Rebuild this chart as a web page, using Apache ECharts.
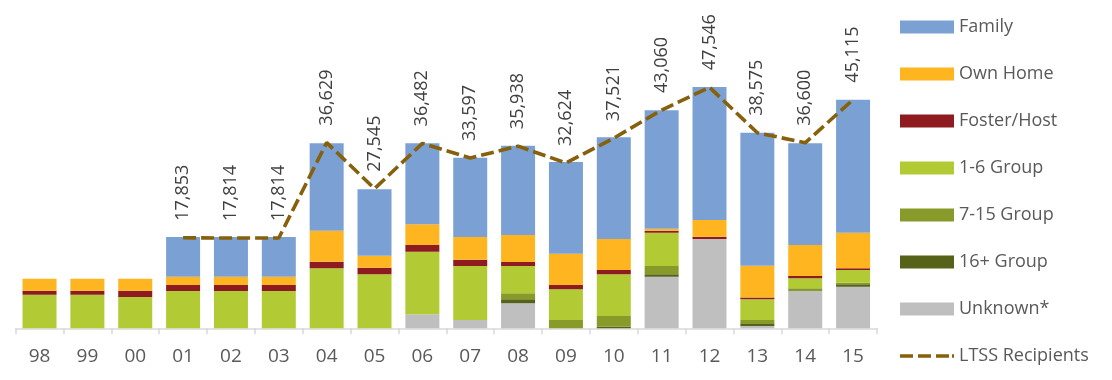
<!DOCTYPE html>
<html>
<head>
<meta charset="utf-8">
<script src="https://cdn.jsdelivr.net/npm/echarts@6/dist/echarts.min.js"></script>
<style>
html,body{margin:0;padding:0;background:#fff;}
#c{width:1112px;height:380px;}
</style>
</head>
<body>
<div id="c"></div>
<script>
const categories = ['98','99','00','01','02','03','04','05','06','07','08','09','10','11','12','13','14','15'];
const unknown   = [0,0,0,0,0,0,0,0,2760,1640,4930,0,0,10180,17620,450,7360,8210];
const group16   = [0,0,0,0,0,0,0,0,0,0,790,0,330,470,0,390,0,470];
const group7_15 = [0,0,0,0,0,0,0,0,0,0,1180,1640,2110,1640,0,790,530,320];
const group1_6  = [6610,6610,6160,7360,7360,7360,11840,10650,12350,10650,5390,6060,8230,6570,0,4080,1970,2500];
const foster    = [790,790,1240,1180,1180,1180,1300,1300,1320,1240,790,850,850,390,450,390,450,330];
const ownHome   = [2370,2370,2370,1640,1640,1640,6120,2370,4080,4480,5330,6180,6120,390,3290,6230,6120,7020];
const family    = [0,0,0,7830,7830,7830,17240,13100,15980,15650,17620,18090,20070,23360,26240,26240,20070,26240];
const ltss      = [null,null,null,17853,17814,17814,36629,27545,36482,33597,35938,32624,37521,43060,47546,38575,36600,45115];

const FONT = '"Open Sans", "Liberation Sans", sans-serif';
const LINE_COLOR = '#86600a';

function barSeries(name, data, color) {
  return {
    name: name, type: 'bar', stack: 'total', data: data, barWidth: 34,
    itemStyle: { color: color },
    emphasis: { disabled: true }
  };
}

const chart = echarts.init(document.getElementById('c'), null, { renderer: 'canvas' });
chart.setOption({
  animation: false,
  backgroundColor: '#ffffff',
  grid: { left: 15.6, right: 235, top: 24.2, bottom: 51.7, containLabel: false },
  legend: {
    orient: 'vertical',
    left: 900, top: 18, padding: 0,
    itemWidth: 54, itemHeight: 13,
    itemGap: 29,
    textStyle: { fontFamily: FONT, fontSize: 18, color: '#595959', lineHeight: 18 },
    data: [
      { name: 'Family', icon: 'rect' },
      { name: 'Own Home', icon: 'rect' },
      { name: 'Foster/Host', icon: 'rect' },
      { name: '1-6 Group', icon: 'rect' },
      { name: '7-15 Group', icon: 'rect' },
      { name: '16+ Group', icon: 'rect' },
      { name: 'Unknown*', icon: 'rect' },
      { name: 'LTSS Recipients',
        icon: 'path://M0,0h13v3.6h-13z M18,0h13v3.6h-13z M36,0h13v3.6h-13z M52,0h2v3.6h-2z',
        itemStyle: { color: LINE_COLOR } }
    ]
  },
  xAxis: {
    type: 'category',
    data: categories,
    axisLine: { lineStyle: { color: '#d9d9d9', width: 1.5 } },
    axisTick: { show: true, alignWithLabel: false, length: 6, lineStyle: { color: '#d9d9d9', width: 1.5 } },
    axisLabel: { fontFamily: FONT, fontSize: 19, color: '#595959', margin: 19 }
  },
  yAxis: {
    type: 'value', min: 0, max: 60000,
    show: false,
    splitLine: { show: false }
  },
  series: [
    barSeries('Unknown*', unknown, '#bfbfbf'),
    barSeries('16+ Group', group16, '#566119'),
    barSeries('7-15 Group', group7_15, '#889a29'),
    barSeries('1-6 Group', group1_6, '#b2cb34'),
    barSeries('Foster/Host', foster, '#8e1b1f'),
    barSeries('Own Home', ownHome, '#feb51f'),
    barSeries('Family', family, '#7ba1d4'),
    {
      name: 'LTSS Recipients', type: 'line', data: ltss,
      symbol: 'circle', symbolSize: 0, showSymbol: true, connectNulls: false,
      lineStyle: { color: LINE_COLOR, width: 3.6, type: [13, 5] },
      itemStyle: { color: LINE_COLOR },
      label: {
        show: true, position: 'top', distance: 17, rotate: 90,
        align: 'left', verticalAlign: 'middle',
        fontFamily: FONT, fontSize: 18, color: '#404040',
        formatter: function (p) { return p.value == null ? '' : p.value.toLocaleString('en-US'); }
      },
      labelLayout: { hideOverlap: false },
      emphasis: { disabled: true },
      z: 5
    }
  ]
});
</script>
</body>
</html>
